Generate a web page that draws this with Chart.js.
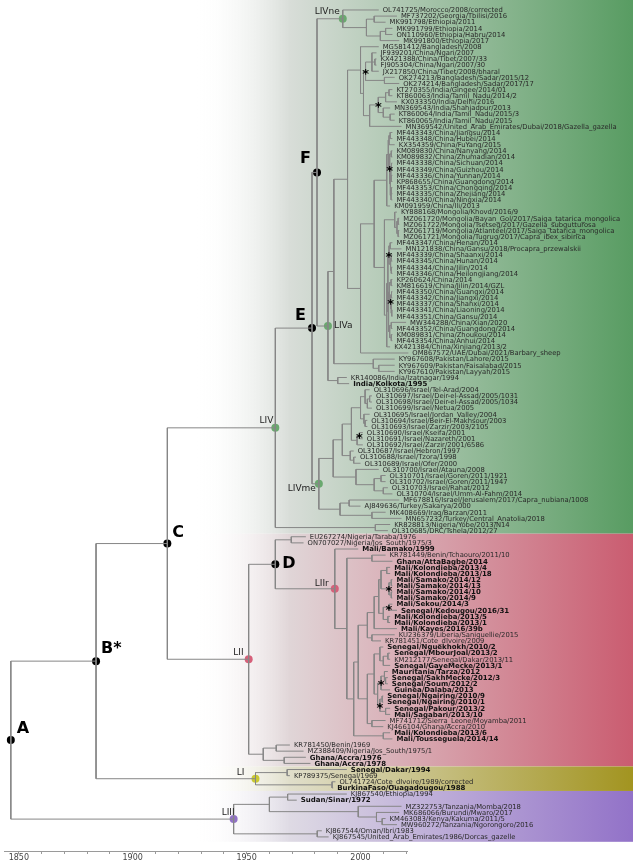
<!DOCTYPE html>
<html lang="en">
<head>
<meta charset="UTF-8">
<title>Time-scaled phylogeny</title>
<script src="https://cdn.jsdelivr.net/npm/chart.js"></script>
<style>
  html, body { margin: 0; background: #fff; }
  #wrap { width: 633px; height: 862px; position: relative; }
</style>
</head>
<body>
<div id="wrap"><canvas id="tree"></canvas></div>
<script>
// tip names, top to bottom (tip numbers below count from 1)
const tipLabels = [
  'OL741725/Morocco/2008/corrected', 'MF737202/Georgia/Tbilisi/2016', 'MK991798/Ethiopia/2011',
  'MK991799/Ethiopia/2014', 'ON110960/Ethiopia/Habru/2014', 'MK991800/Ethiopia/2017',
  'MG581412/Bangladesh/2008', 'JF939201/China/Ngari/2007', 'KX421388/China/Tibet/2007/33',
  'FJ905304/China/Ngari/2007/30', 'JX217850/China/Tibet/2008/bharal', 'OK274213/Bangladesh/Sadar/2015/12',
  'OK274214/Bangladesh/Sadar/2017/17', 'KT270355/India/Gingee/2014/01', 'KT860063/India/Tamil_Nadu/2014/2',
  'KX033350/India/Delhi/2016', 'MN369543/India/Shahjadpur/2013', 'KT860064/India/Tamil_Nadu/2015/3',
  'KT860065/India/Tamil_Nadu/2015', 'MN369542/United_Arab_Emirates/Dubai/2018/Gazella_gazella',
  'MF443343/China/Jiangsu/2014', 'MF443348/China/Hubei/2014', 'KX354359/China/FuYang/2015',
  'KM089830/China/Nanyang/2014', 'KM089832/China/Zhumadian/2014', 'MF443338/China/Sichuan/2014',
  'MF443349/China/Guizhou/2014', 'MF443336/China/Yunnan/2014', 'KP868655/China/Guangdong/2014',
  'MF443353/China/Chongqing/2014', 'MF443335/China/Zhejiang/2014', 'MF443340/China/Ningxia/2014',
  'KM091959/China/Ili/2013', 'KY888168/Mongolia/Khovd/2016/9',
  'MZ061720/Mongolia/Bayan_Gol/2017/Saiga_tatarica_mongolica', 'MZ061722/Mongolia/Tsetseg/2017/Gazella_subgutturosa',
  'MZ061719/Mongolia/Atlanteel/2017/Saiga_tatarica_mongolica', 'MZ061721/Mongolia/Tugrug/2017/Capra_ibex_sibirica',
  'MF443347/China/Henan/2014', 'MN121838/China/Gansu/2018/Procapra_przewalskii', 'MF443339/China/Shaanxi/2014',
  'MF443345/China/Hunan/2014', 'MF443344/China/Jilin/2014', 'MF443346/China/Heilongjiang/2014',
  'KP260624/China/2014', 'KM816619/China/Jilin/2014/GZL', 'MF443350/China/Guangxi/2014',
  'MF443342/China/Jiangxi/2014', 'MF443337/China/Shanxi/2014', 'MF443341/China/Liaoning/2014',
  'MF443351/China/Gansu/2014', 'MW344288/China/Xian/2020', 'MF443352/China/Guangdong/2014',
  'KM089831/China/Zhoukou/2014', 'MF443354/China/Anhui/2014', 'KX421384/China/Xinjiang/2013/2',
  'OM867572/UAE/Dubai/2021/Barbary_sheep', 'KY967608/Pakistan/Lahore/2015', 'KY967609/Pakistan/Faisalabad/2015',
  'KY967610/Pakistan/Layyah/2015', 'KR140086/India/Izatnagar/1994', 'India/Kolkota/1995',
  'OL310696/Israel/Tel-Arad/2004', 'OL310697/Israel/Deir-el-Assad/2005/1031', 'OL310698/Israel/Deir-el-Assad/2005/1034',
  'OL310699/Israel/Netua/2005', 'OL310695/Israel/Jordan_Valley/2004', 'OL310694/Israel/Beir-El-Makhsour/2003',
  'OL310693/Israel/Zarzir/2003/2105', 'OL310690/Israel/Kseifa/2001', 'OL310691/Israel/Nazareth/2001',
  'OL310692/Israel/Zarzir/2001/6586', 'OL310687/Israel/Hebron/1997', 'OL310688/Israel/Tzora/1998',
  'OL310689/Israel/Ofer/2000', 'OL310700/Israel/Atauna/2008', 'OL310701/Israel/Goren/2011/1921',
  'OL310702/Israel/Goren/2011/1947', 'OL310703/Israel/Rahat/2012', 'OL310704/Israel/Umm-Al-Fahm/2014',
  'MF678816/Israel/Jerusalem/2017/Capra_nubiana/1008', 'AJ849636/Turkey/Sakarya/2000', 'MK408669/Iraq/Barzan/2011',
  'MN657232/Turkey/Central_Anatolia/2018', 'KR828813/Nigeria/Yobe/2013/N14', 'OL310685/DRC/Tshela/2012/27',
  'EU267274/Nigeria/Taraba/1976', 'ON707027/Nigeria/Jos_South/1975/3', 'Mali/Bamako/1999',
  'KR781449/Benin/Tchaouro/2011/10', 'Ghana/AttaBagbe/2014', 'Mali/Kolondieba/2013/4',
  'Mali/Kolondieba/2013/18', 'Mali/Samako/2014/12', 'Mali/Samako/2014/13', 'Mali/Samako/2014/10',
  'Mali/Samako/2014/9', 'Mali/Sekou/2014/3', 'Senegal/Kedougou/2016/31', 'Mali/Kolondieba/2013/5',
  'Mali/Kolondieba/2013/1', 'Mali/Kayes/2016/39b', 'KU236379/Liberia/Saniquellie/2015',
  'KR781451/Cote_dIvoire/2009', 'Senegal/Nguekhokh/2010/2', 'Senegal/MbourJoal/2013/2',
  'KM212177/Senegal/Dakar/2013/11', 'Senegal/GayeMecke/2013/1', 'Mauritania/Tarza/2012',
  'Senegal/SakhMecke/2012/3', 'Senegal/Soum/2012/2', 'Guinea/Dalaba/2013', 'Senegal/Ngairing/2010/9',
  'Senegal/Ngairing/2010/1', 'Senegal/Pakour/2013/2', 'Mali/Sagabari/2013/10',
  'MF741712/Sierra_Leone/Moyamba/2011', 'KJ466104/Ghana/Accra/2010', 'Mali/Kolondieba/2013/6',
  'Mali/Tousseguela/2014/14', 'KR781450/Benin/1969', 'MZ388409/Nigeria/Jos_South/1975/1',
  'Ghana/Accra/1976', 'Ghana/Accra/1978', 'Senegal/Dakar/1994', 'KP789375/Senegal/1969',
  'OL741724/Cote_dIvoire/1989/corrected', 'BurkinaFaso/Ouagadougou/1988', 'KJ867540/Ethiopia/1994',
  'Sudan/Sinar/1972', 'MZ322753/Tanzania/Momba/2018', 'MK686066/Burundi/Mwaro/2017',
  'KM463083/Kenya/Kakuma/2011/5', 'MW960272/Tanzania/Ngorongoro/2016', 'KJ867544/Oman/Ibri/1983',
  'KJ867545/United_Arab_Emirates/1986/Dorcas_gazelle'
];

// sampling year of each tip (x of the tip)
const tipYears = [
  2008, 2016, 2011, 2014, 2014, 2017, 2008, 2007, 2007, 2007,
  2008, 2015, 2017, 2014, 2014, 2016, 2013, 2015, 2015, 2018,
  2014, 2014, 2015, 2014, 2014, 2014, 2014, 2014, 2014, 2014,
  2014, 2014, 2013, 2016, 2017, 2017, 2017, 2017, 2014, 2018,
  2014, 2014, 2014, 2014, 2014, 2014, 2014, 2014, 2014, 2014,
  2014, 2020, 2014, 2014, 2014, 2013, 2021, 2015, 2015, 2015,
  1994, 1995, 2004, 2005, 2005, 2005, 2004, 2003, 2003, 2001,
  2001, 2001, 1997, 1998, 2000, 2008, 2011, 2011, 2012, 2014,
  2017, 2000, 2011, 2018, 2013, 2012, 1976, 1975, 1999, 2011,
  2014, 2013, 2013, 2014, 2014, 2014, 2014, 2014, 2016, 2013,
  2013, 2016, 2015, 2009, 2010, 2013, 2013, 2013, 2012, 2012,
  2012, 2013, 2010, 2010, 2013, 2013, 2011, 2010, 2013, 2014,
  1969, 1975, 1976, 1978, 1994, 1969, 1989, 1988, 1994, 1972,
  2018, 2017, 2011, 2016, 1983, 1986
];

// tips whose names are set in bold
const boldTips = [62, 89, 91, 92, 93, 94, 95, 96, 97, 98, 99, 100, 101, 102, 105, 106,
  108, 109, 110, 111, 112, 113, 114, 115, 116, 119, 120, 123, 124, 125, 128, 130];

// clades: [node year, optional tag, ...children]; a number is a tip
const cladeLIVne = [1992.2, 'LIVne', 1, [2002.6, [2006, 2, 3], [2008.7, [2011, 4, 5], 6]]];
const cladeSouthAsia = [2000, 7, [2001.3,
  [2002.2, '*', [2005, 8, [2006.3, 9, 10], 11], [2010.5, 12, 13]],
  [2004, [2007.8, '*', [2011, [2012.5, 14, 15], 16], [2010, 17, [2013, 18, 19]]], 20]]];
const cladeChinaA = [2011.5, [2012.2, [2012.5, [2013, 21, 22], 23],
  [2012.8, '*', [2013.5, 24, 25], [2013.1, [2013.3, [2013.6, 26, 27], [2013.6, 28, 29]],
    [2013.4, [2013.6, 30, 31], 32]]]], 33];
const cladeMongolia = [2015, 34, [2016, [2016.5, 35, 36], [2016.5, 37, 38]]];
const cladeChinaB = [2010.5, cladeMongolia, [2011.5, [2012,
  [2012.5, '*', [2013, 39, 40], [2013.2, [2013.5, 41, 42], [2013.5, 43, 44]]],
  [2012.3, [2012.7, [2013.4, 45, 46], [2013.2, '*', [2013.6, 47, 48], [2013.5, 49, [2013.7, 50, 51]]]],
    [2012.8, [2013.5, 52, 53], [2013.5, 54, 55]]]], 56]];
const cladeLIVa = [1985.7, 'LIVa',
  [1988.3, [1994.3, cladeSouthAsia, [2000, [2006, cladeChinaA, cladeChinaB], 57]], [2005.6, 58, [2008, 59, 60]]],
  [1990, 61, 62]];
const cladeIsrael = [1988,
  [1992, [1996, [2000, [2002, 63, [2003, [2004, 64, 65], 66]], [2001.5, 67, [2002, 68, 69]]],
    [1998.5, [1999.5, '*', 70, 71], 72]], [1995.5, 73, [1997, 74, 75]]],
  [1998, 76, [2006, [2009, 77, 78], [2010, 79, 80]]]];
const cladeLIVme = [1981.7, 'LIVme', cladeIsrael, [1991, [1995, 81, 82], [2005, 83, 84]]];
const cladeLIV = [1962.6, 'LIV', [1978.7, 'E', [1980.9, 'F', cladeLIVne, cladeLIVa], cladeLIVme], [2006.5, 85, 86]];
const cladeLIIr = [1988.7, 'LIIr', 89, [1994, [2005, 90, 91], [1997, [1999,
  [2003, [2006, [2008, [2009, [2011.5, 92, 93], [2012.5, '*', [2013.5, 94, 95], [2013.5, 96, 97]]],
    [2010, [2012.5, '*', 98, 99], [2012, 100, 101]]], 102], [2005, 103, 104]],
  [2003, [2006, [2008.5, 105, [2010, [2012, 106, 107], 108]],
    [2007.5, [2009, '*', [2010.5, 109, [2011, 110, 111]], 112], [2008.5, '*', [2009.5, 113, 114], [2011, 115, 116]]]],
    [2005, 117, 118]]], [2010, 119, 120]]]];
const cladeLII = [1950.9, 'LII', [1962.6, 'D', [1969.6, 87, 88], cladeLIIr],
  [1957.3, [1963, 121, 122], [1966.5, 123, 124]]];
const cladeLI = [1953.9, 'LI', [1967.8, 125, 126], [1987.5, 127, 128]];
const cladeLIII = [1944.3, 'LIII', [1960, [1968, 129, 130], [1999, 131, [2007, 132, [2009.5, 133, 134]]]],
  [1981, 135, 136]];
const treeRoot = [1846.5, 'A', [1883.9, 'B*', [1915.2, 'C', cladeLIV, cladeLII], cladeLI], cladeLIII];

// coloured clade bands, first and last tip number
const bandNames = ['LIV', 'LII', 'LI', 'LIII'];
const bandFirst = [1, 87, 125, 129];
const bandLast = [86, 124, 128, 136];

// x axis
const axisMin = 1843.5, axisMax = 2020.4;

// ---- styles ----
const bandColors = {
  LIV: ['rgb(216,221,216)', 'rgb(88,156,98)'],
  LII: ['rgb(224,213,215)', 'rgb(202,92,112)'],
  LI: ['rgb(224,222,202)', 'rgb(162,148,32)'],
  LIII: ['rgb(222,218,228)', 'rgb(146,114,200)']
};
const cladeDotColors = {
  LIVne: '#6aa96f', LIV: '#6aa96f', LIVa: '#6aa96f', LIVme: '#6aa96f',
  LII: '#d6607a', LIIr: '#d6607a', LI: '#c9c832', LIII: '#9272c8'
};
// label placement relative to the node dot: [dx, dy, align]
const tagPlace = {
  A: [6, -11, 'left'], 'B*': [5, -12, 'left'], C: [5, -11, 'left'], D: [7, 0, 'left'],
  E: [-6, -12, 'right'], F: [-6, -14, 'right'],
  LIVne: [-3, -7, 'right'], LIV: [-2, -7, 'right'], LIVa: [6, 0, 'left'], LIVme: [-3, 5, 'right'],
  LII: [-5, -7, 'right'], LIIr: [-6, -5, 'right'], LI: [-11, -6, 'right'], LIII: [1, -6, 'right']
};

// ---- build tree geometry ----
function layout(node) {
  if (typeof node === 'number') return { x: tipYears[node - 1], y: node - 1 };
  let k = 1, tag = null;
  if (typeof node[1] === 'string') { tag = node[1]; k = 2; }
  const kids = node.slice(k).map(layout);
  return { x: node[0], y: (kids[0].y + kids[kids.length - 1].y) / 2, tag: tag, kids: kids };
}
const root = layout(treeRoot);

const branchPts = [];
const tagged = [];
const gap = { x: NaN, y: NaN };
function collect(n) {
  if (!n.kids) return;
  branchPts.push({ x: n.x, y: n.kids[0].y }, { x: n.x, y: n.kids[n.kids.length - 1].y }, gap);
  n.kids.forEach(c => {
    branchPts.push({ x: n.x, y: c.y }, { x: c.x, y: c.y }, gap);
    collect(c);
  });
  if (n.tag) tagged.push(n);
}
collect(root);

const cladeNodes = tagged.filter(n => cladeDotColors[n.tag]);
const letterNodes = tagged.filter(n => n.tag !== '*' && !cladeDotColors[n.tag]);
const starNodes = tagged.filter(n => n.tag === '*');

const bandPlugin = {
  id: 'bands',
  beforeDatasetsDraw(chart) {
    const ctx = chart.ctx, ys = chart.scales.y, W = chart.width;
    ctx.save();
    bandNames.forEach((name, i) => {
      const top = i === 0 ? 0 : ys.getPixelForValue(bandFirst[i] - 1.5);
      const bot = i === bandNames.length - 1 ? ys.getPixelForValue(bandLast[i] - 0.2) : ys.getPixelForValue(bandLast[i] - 0.5);
      const g = ctx.createLinearGradient(0, 0, W, 0);
      g.addColorStop(0, 'rgba(255,255,255,0)');
      g.addColorStop(195 / W, 'rgba(255,255,255,0)');
      g.addColorStop(290 / W, bandColors[name][0]);
      g.addColorStop(1, bandColors[name][1]);
      ctx.fillStyle = g;
      ctx.fillRect(0, top, W, bot - top);
    });
    ctx.restore();
  }
};

const labelPlugin = {
  id: 'treeLabels',
  afterDatasetsDraw(chart) {
    const ctx = chart.ctx, xs = chart.scales.x, ys = chart.scales.y;
    ctx.save();
    ctx.textBaseline = 'middle';
    ctx.textAlign = 'left';
    tipLabels.forEach((lab, i) => {
      const bold = boldTips.includes(i + 1);
      ctx.font = bold ? 'bold 7px "DejaVu Sans"' : '6.8px "DejaVu Sans"';
      ctx.fillStyle = bold ? '#111' : '#2a2a2a';
      ctx.fillText(lab, xs.getPixelForValue(tipYears[i]) + 4, ys.getPixelForValue(i) + 0.5);
    });
    // clade names and node letters
    tagged.forEach(n => {
      if (n.tag === '*') return;
      const p = tagPlace[n.tag];
      const px = xs.getPixelForValue(n.x), py = ys.getPixelForValue(n.y);
      const isClade = !!cladeDotColors[n.tag];
      ctx.font = isClade ? '9px "DejaVu Sans"' : 'bold 16px "DejaVu Sans"';
      ctx.fillStyle = isClade ? '#222' : '#000';
      ctx.textAlign = p[2];
      ctx.fillText(n.tag, px + p[0], py + p[1]);
    });
    ctx.font = 'bold 13px "DejaVu Sans"';
    ctx.textAlign = 'center';
    ctx.fillStyle = '#000';
    starNodes.forEach(n => {
      ctx.fillText('*', xs.getPixelForValue(n.x), ys.getPixelForValue(n.y) + 3);
    });
    ctx.restore();
  }
};

new Chart(document.getElementById('tree'), {
  type: 'scatter',
  data: {
    datasets: [
      {
        data: branchPts, showLine: true, spanGaps: false, borderColor: '#868686', borderWidth: 1,
        pointRadius: 0, clip: false
      },
      {
        data: cladeNodes.map(n => ({ x: n.x, y: n.y })),
        pointRadius: 4, pointBorderWidth: 0,
        pointBackgroundColor: cladeNodes.map(n => cladeDotColors[n.tag]), clip: false
      },
      {
        data: letterNodes.map(n => ({ x: n.x, y: n.y })),
        pointRadius: 4, pointBorderWidth: 0, pointBackgroundColor: '#000', clip: false
      }
    ]
  },
  options: {
    responsive: true,
    maintainAspectRatio: false,
    animation: false,
    layout: { padding: { left: 0, right: 226, top: 0, bottom: 0 } },
    plugins: { legend: { display: false }, tooltip: { enabled: false } },
    scales: {
      x: {
        type: 'linear', min: axisMin, max: axisMax,
        grid: { drawOnChartArea: false, color: '#9a9a9a', tickLength: 3 },
        border: { color: '#9a9a9a' },
        ticks: {
          stepSize: 10, includeBounds: false, autoSkip: false, maxRotation: 0, padding: 0,
          color: '#444', font: { family: 'DejaVu Sans', size: 8, lineHeight: 1 },
          callback: v => (v % 50 === 0 ? String(v) : '')
        }
      },
      y: { type: 'linear', reverse: true, min: -0.975, max: 137.3, display: false }
    }
  },
  plugins: [bandPlugin, labelPlugin]
});
</script>
</body>
</html>
